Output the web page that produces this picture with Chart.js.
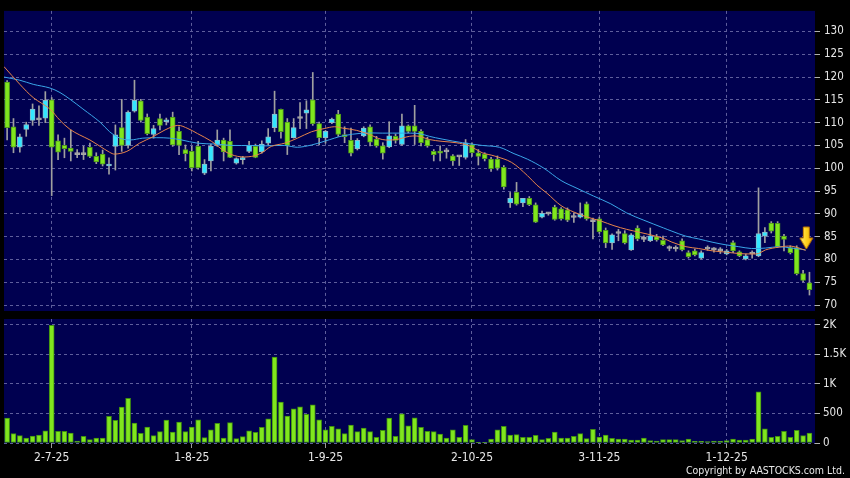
<!DOCTYPE html>
<html><head><meta charset="utf-8">
<script src="https://cdn.jsdelivr.net/npm/chart.js@4.4.1/dist/chart.umd.min.js"></script>
<style>
html,body{margin:0;padding:0;background:#000;}
#wrap{position:relative;width:850px;height:478px;background:#000;overflow:hidden;}
canvas{position:absolute;left:0;top:0;}
#copy{position:absolute;right:5px;top:464px;color:#e8e8e8;font:10.5px "DejaVu Sans Condensed","DejaVu Sans",sans-serif;white-space:nowrap;}
</style></head>
<body><div id="wrap"><canvas id="p" width="850" height="478"></canvas><canvas id="v" width="850" height="478"></canvas><div id="copy">Copyright by AASTOCKS.com Ltd.</div></div>
<script>
const tickIdx = [7, 29, 50, 73, 93, 113];
const tickLabels = ['2-7-25','1-8-25','1-9-25','2-10-25','3-11-25','1-12-25'];
const priceTicks = [70,75,80,85,90,95,100,105,110,115,120,125,130];
const volTicks = [0,500,1000,1500,2000];
const volTickLabels = ['0','500','1K','1.5K','2K'];

const opens = [118.9,109.1,104.6,108.5,110.5,110.6,111.0,115.0,106.0,105.0,
104.4,103.0,103.0,104.6,102.6,103.1,100.5,104.8,108.9,105.0,
112.5,114.8,111.2,107.4,110.9,110.2,111.2,108.1,104.1,103.7,
104.8,98.9,101.6,105.0,106.2,105.9,101.1,101.9,103.7,104.8,
103.6,105.5,108.9,112.9,110.1,106.7,110.9,112.1,115.0,109.8,
106.7,110.0,111.9,107.4,106.1,104.3,107.1,109.1,106.4,104.9,
104.7,107.0,105.2,109.3,109.3,108.1,106.3,103.7,103.7,103.6,
102.7,102.5,102.4,105.2,103.4,103.1,102.0,102.0,100.2,92.4,
94.7,92.4,93.4,92.0,89.3,90.0,91.5,91.1,90.9,89.2,
89.3,92.2,88.3,88.9,86.4,83.6,85.7,85.7,82.1,86.9,
84.4,84.1,85.0,84.2,82.4,82.3,84.1,81.5,81.9,80.3,
82.3,82.1,81.9,81.2,83.7,81.7,80.1,81.2,80.8,85.1,
88.0,87.9,85.1,82.6,82.6,76.9,74.9];
const highs = [119.2,110.9,107.5,110.1,114.1,113.7,116.8,115.5,107.3,106.6,
108.4,104.1,104.8,105.5,103.4,104.0,102.3,109.5,115.1,112.6,
119.3,115.1,111.9,109.4,111.9,111.0,112.3,109.1,105.1,104.8,
105.9,101.9,105.3,108.4,106.6,108.4,102.3,102.6,105.9,105.3,
106.0,108.7,116.9,113.0,110.9,110.9,114.4,114.8,121.0,110.1,
108.3,111.0,112.7,109.1,108.8,106.5,109.1,109.5,107.0,105.6,
110.2,107.5,111.9,109.5,113.8,108.5,106.8,104.1,104.9,104.4,
103.0,102.7,106.3,105.6,104.1,103.4,102.4,102.7,100.6,94.7,
96.9,93.1,93.8,92.4,90.6,90.3,91.9,91.4,91.3,90.2,
92.4,92.6,89.1,89.3,86.9,85.6,86.6,86.3,85.7,87.4,
85.2,86.9,85.5,85.1,83.0,83.0,84.5,81.9,82.3,81.9,
83.0,82.6,82.6,82.2,84.1,81.9,81.2,81.9,95.7,87.0,
88.3,88.3,85.5,83.0,83.0,77.6,77.2];
const lows = [106.2,103.4,103.5,107.0,109.4,109.4,110.0,94.0,101.9,102.3,
101.6,102.3,101.9,102.3,101.0,100.5,98.7,99.6,103.7,104.4,
112.3,110.1,107.3,106.6,108.4,109.5,104.8,103.0,101.6,99.4,
99.8,98.6,99.4,104.8,101.6,102.3,100.9,100.9,103.4,102.3,
103.3,105.1,108.0,106.6,103.0,106.6,108.7,108.7,109.4,105.1,
105.5,109.8,107.0,105.6,102.7,104.0,106.9,104.9,104.6,102.0,
104.5,105.5,105.0,107.8,105.2,104.9,104.6,101.6,101.6,102.2,
100.6,100.6,102.0,102.6,100.7,101.6,99.3,99.6,95.4,91.4,
91.9,91.6,91.8,88.1,89.1,89.7,88.6,88.6,88.3,88.1,
89.1,88.6,84.5,85.7,82.6,82.2,84.1,83.4,82.0,84.1,
83.9,83.9,84.0,83.0,81.9,81.8,81.9,80.3,80.8,80.1,
82.0,81.6,81.3,81.0,81.5,80.6,79.9,80.3,80.6,83.7,
85.8,82.6,81.9,81.2,76.6,75.1,72.2];
const closes = [108.9,104.6,106.9,109.6,113.0,110.6,114.9,104.6,103.5,104.3,
103.7,103.0,103.0,102.6,101.4,100.9,100.9,107.3,105.0,112.3,
114.9,110.5,107.6,108.7,109.4,110.6,105.1,105.0,103.2,100.1,
100.1,100.9,104.8,106.2,103.6,102.4,102.1,102.2,105.0,102.4,
105.3,106.9,111.9,108.0,105.0,108.9,110.9,112.8,109.8,106.7,
108.1,110.8,107.4,106.9,103.3,106.1,108.8,105.7,104.9,103.3,
107.1,106.1,109.3,108.1,108.1,105.6,104.9,103.0,103.3,103.6,
101.6,102.5,105.6,103.4,102.6,102.1,99.9,100.0,95.9,93.4,
92.1,93.4,92.0,88.2,90.1,90.0,88.8,88.9,88.6,89.2,
90.0,88.9,88.3,86.1,83.6,85.4,85.7,83.6,85.4,84.5,
84.4,85.2,84.3,83.2,82.4,82.3,82.1,80.6,81.0,81.5,
82.3,82.1,81.9,81.9,81.9,80.8,80.8,81.2,85.7,86.0,
86.2,82.8,84.4,81.5,76.9,75.4,73.4];
const volumes = [422,158,124,85,118,135,208,1994,197,197,
169,34,113,56,85,85,451,383,608,755,
338,163,270,124,192,389,186,355,192,270,
394,90,225,332,85,344,73,107,208,180,
265,411,1454,693,456,580,614,485,648,394,
225,282,242,158,304,192,254,192,96,214,
422,113,496,293,428,265,197,192,152,85,
225,96,299,56,11,11,68,225,282,135,
141,96,96,130,56,79,186,85,85,113,
158,73,231,101,135,79,68,68,51,51,
85,39,34,56,56,56,39,68,28,28,
23,34,28,39,68,51,51,68,868,242,
96,113,197,96,214,124,169];

// moving average lines (position in bar units, value)
const maFastPos = [-0.5,2,4.1,6.7,8.3,9.9,11.4,13,14.6,16.1,16.9,18.8,20.8,22.9,24.8,26.8,28.4,29.9,32.1,34.2,36.2,38.4,40,41.5,43.6,45.6,47.8,49.8,51.4,52.7,54.9,56.9,58.9,61.1,63.2,64.7,66.3,68.3,70.5,72.6,74.6,76.5,79.2,81.7,83.2,84.8,87,89,91.1,93.3,95.3,97.3,99.5,101.6,103.1,104.4,106.6,108.6,110.7,112.9,114.9,116.9,118,119.1,121.2,123.2,125.4];
const maFastVal = [122.3,118.4,115.5,113,110.5,108.5,107.3,106.2,104.8,103.5,103.1,103.7,105.5,106.9,108.4,109.4,108.7,107.6,105.9,103.7,102.6,102.6,103.4,104.8,105.5,106.6,108,108.7,109.1,108.8,108.3,107.4,106.3,106.3,107,107,106.3,105.9,105.6,104.9,103.4,102.7,101.3,98.4,96.3,94.5,91.8,90.4,89.3,88.4,87.4,86.6,85.9,85.2,84.6,83.8,82.8,82.4,81.9,81.6,81.3,81.2,81.3,82.1,82.7,82.9,82.0];
const maSlowPos = [-0.5,2,4.1,6.7,8.3,9.9,11.9,14.6,16.1,17.7,19.3,21.3,23.5,25.5,27.4,29.9,32.6,35.3,38.4,40.4,43.6,45.6,47.8,49.8,51.4,52.7,55.8,58.9,62.1,64.7,66.3,68.3,71.5,74.6,77.3,79.6,81.7,84.3,87,89.5,92.1,94.8,97.3,100,103.1,104.4,106.6,108.6,110.7,112.9,114.9,116.9,119.1,121.2,123.2,125.4];
const maSlowVal = [120,119.3,118.4,117.6,116.6,115.1,113,110.1,108,106.6,106.2,106.6,106.7,106.6,106.2,105.5,105.3,105,105,104.9,105,104.6,105.1,105.9,106.6,107.1,107.7,107.7,107.7,107.6,107,106.4,105.6,105,104.6,103.2,102,100,97.3,95.6,93.9,92.2,90.2,88.6,86.9,86.2,85.1,84.5,83.8,83.2,82.8,82.4,82.5,82.8,82.5,82.1];
const arrowPos = 125.5, arrowVal = 84.7;

const NAVY = '#000050', GRID = '#5e5e9c', TXT = '#e6e6e6';
const FONT = {family:'"DejaVu Sans Condensed","DejaVu Sans",sans-serif', size:12};
const YFONT = {family:'"DejaVu Sans Condensed","DejaVu Sans",sans-serif', size:11.5};
const XMIN = -0.49, XMAX = 126.87;
const UP = '#33e6ff', UPB = '#8fb8c8', DN = '#80e61e', DNB = '#4f9a1a', FLAT = '#a8a8a8';

const bgPlugin = {id:'bg', beforeDraw(c){const a=c.chartArea,g=c.ctx;g.save();g.fillStyle=NAVY;g.fillRect(a.left,a.top,a.right-a.left,a.bottom-a.top);g.restore();}};

function arrowImg(){const c=document.createElement('canvas');c.width=15;c.height=24;const g=c.getContext('2d');
 g.beginPath();g.moveTo(4.5,1);g.lineTo(10.5,1);g.lineTo(10.5,12);g.lineTo(14,12);g.lineTo(7.5,23);g.lineTo(1,12);g.lineTo(4.5,12);g.closePath();
 const gr=g.createLinearGradient(0,0,15,0);gr.addColorStop(0,'#fff08a');gr.addColorStop(0.5,'#ffd21e');gr.addColorStop(1,'#f0a800');
 g.fillStyle=gr;g.fill();g.strokeStyle='#c07800';g.lineWidth=1;g.stroke();return c;}

const idx = opens.map((_,i)=>i);
const bodyColor = idx.map(i=> closes[i]>opens[i]?UP:(closes[i]<opens[i]?DN:FLAT));
const bodyBorder = idx.map(i=> closes[i]>opens[i]?UPB:(closes[i]<opens[i]?DNB:FLAT));

const xCommon = (showTicks)=>({type:'linear',min:XMIN,max:XMAX,offset:false,bounds:'ticks',
  afterBuildTicks(s){s.ticks=tickIdx.map(v=>({value:v}));},
  grid:{color:GRID,drawTicks:showTicks,tickLength:5,tickColor:'#9a9a9a',tickBorderDash:[],offset:false},
  border:{display:false,dash:[3,3]},
  ticks:{display:showTicks,color:TXT,font:FONT,padding:3,maxRotation:0,autoSkip:false,
    callback(v){const k=tickIdx.indexOf(v);return k>=0?tickLabels[k]:'';}},
  afterFit(s){s.height=showTicks?35:0;}
});

new Chart(document.getElementById('p'),{
  data:{datasets:[
    {type:'bar',data:idx.map(i=>({x:i,y:[lows[i],highs[i]]})),backgroundColor:'#a0a0a0',barThickness:1,grouped:false,order:5},
    {type:'bar',data:idx.map(i=>({x:i,y:[opens[i],closes[i]]})),backgroundColor:bodyColor,borderColor:bodyBorder,borderWidth:1,borderSkipped:false,barThickness:5,minBarLength:2,grouped:false,order:4},
    {type:'line',data:maFastPos.map((p,k)=>({x:p,y:maFastVal[k]})),borderColor:'#e8844a',borderWidth:1,pointRadius:0,tension:0.35,order:2},
    {type:'line',data:maSlowPos.map((p,k)=>({x:p,y:maSlowVal[k]})),borderColor:'#3aa6e8',borderWidth:1,pointRadius:0,tension:0.35,order:3},
    {type:'scatter',data:[{x:arrowPos,y:arrowVal}],pointStyle:arrowImg(),pointRadius:10,order:1}
  ]},
  options:{responsive:false,animation:false,devicePixelRatio:1,
    layout:{autoPadding:false,padding:{left:4,top:5,right:0,bottom:167}},
    plugins:{legend:{display:false},tooltip:{enabled:false}},
    scales:{
      x:xCommon(false),
      y:{position:'right',min:68.7,max:134.5,
        afterBuildTicks(s){s.ticks=priceTicks.map(v=>({value:v}));},
        grid:{color:GRID,tickLength:5,tickColor:'#b0b0b0',tickBorderDash:[]},
        border:{display:false,dash:[3,3]},
        ticks:{color:TXT,font:YFONT,padding:4,callback:v=>String(v)},
        afterFit(s){s.width=35;}}
    }},
  plugins:[bgPlugin]
});

new Chart(document.getElementById('v'),{
  data:{datasets:[
    {type:'bar',data:idx.map(i=>({x:i,y:volumes[i]})),backgroundColor:'#80e61e',borderColor:'#3f8f10',borderWidth:1,borderSkipped:false,barThickness:5,grouped:false}
  ]},
  options:{responsive:false,animation:false,devicePixelRatio:1,
    layout:{autoPadding:false,padding:{left:4,top:319,right:0,bottom:0}},
    plugins:{legend:{display:false},tooltip:{enabled:false}},
    scales:{
      x:xCommon(true),
      y:{position:'right',min:0,max:2101,
        afterBuildTicks(s){s.ticks=volTicks.map(v=>({value:v}));},
        grid:{color:GRID,tickLength:5,tickColor:'#b0b0b0',tickBorderDash:[]},
        border:{display:false,dash:[3,3]},
        ticks:{color:TXT,font:YFONT,padding:3,callback(v){const k=volTicks.indexOf(v);return k>=0?volTickLabels[k]:'';}},
        afterFit(s){s.width=35;}}
    }},
  plugins:[bgPlugin]
});
</script>
</body></html>
